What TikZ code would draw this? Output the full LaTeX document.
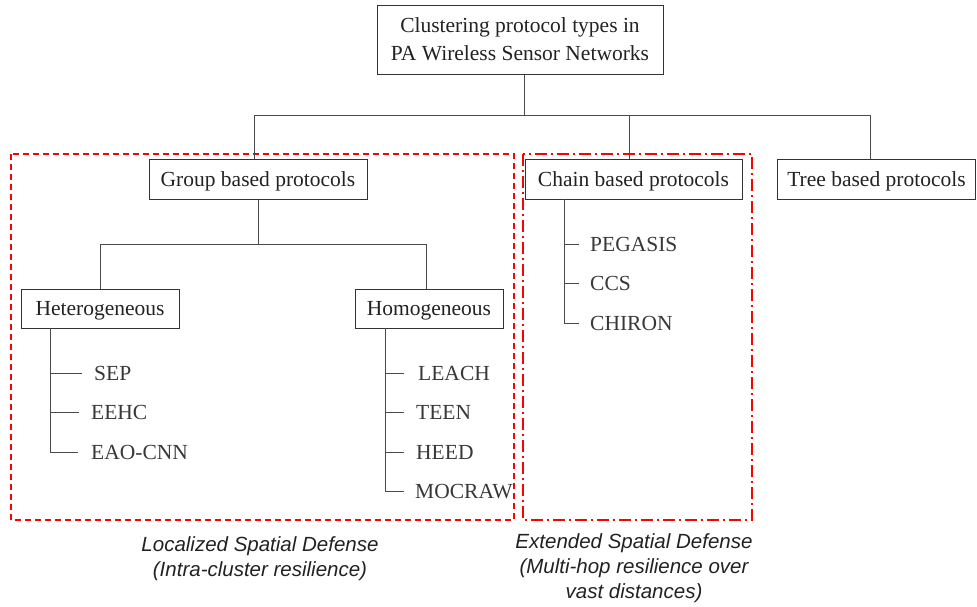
\documentclass[tikz,border=0pt]{standalone}
\usepackage{fontspec}
\setmainfont{Liberation Serif}
\newfontfamily\labelfont{Liberation Sans}
\definecolor{boxline}{HTML}{333333}
\definecolor{conn}{HTML}{4A4A4A}
\definecolor{itemtext}{HTML}{383838}
\definecolor{boxtext}{HTML}{222222}
\begin{document}
\begin{tikzpicture}[x=1pt,y=-1pt,
  box/.style={draw=boxline, line width=1pt, inner sep=0pt, text=boxtext,
    font=\fontsize{21.5}{28}\selectfont, text height=14.2pt, text depth=0pt},
  topbox/.style={draw=boxline, line width=1pt, inner sep=0pt, text=boxtext,
    font=\fontsize{21.5}{28}\selectfont, align=center},
  item/.style={anchor=west, inner sep=0pt, text=itemtext,
    font=\fontsize{21.5}{28}\selectfont, text height=14.2pt, text depth=0pt},
  link/.style={draw=conn, line width=1pt},
  zone/.style={draw=red, line width=2pt, dash pattern=on 6pt off 4pt},
  zonedd/.style={draw=red, line width=2pt, dash pattern=on 12pt off 4pt on 2pt off 4pt},
  caption/.style={inner sep=0pt, anchor=north, align=center, text=boxtext,
    font=\labelfont\itshape\fontsize{20.5}{25}\selectfont}
]
\useasboundingbox (0,0) rectangle (977,606);

% zones
\draw[zone] (11,154) rectangle (514,520);
\draw[zonedd] (523,154) rectangle (752,520);

% boxes
\node[topbox, minimum width=286pt, minimum height=69pt] (top) at (520,39.5)
  {Clustering protocol types in\\PA Wireless Sensor Networks};
\node[box, minimum width=218pt, minimum height=40pt] (group) at (258,179) {Group based protocols};
\node[box, minimum width=217pt, minimum height=40pt] (chain) at (633.5,179) {Chain based protocols};
\node[box, minimum width=198pt, minimum height=40pt] (tree) at (876.5,179) {Tree based protocols};
\node[box, minimum width=158pt, minimum height=39pt] (hetero) at (100,308.5) {Heterogeneous};
\node[box, minimum width=148pt, minimum height=39pt] (homo) at (429,308.5) {Homogeneous};

% top-level connectors
\coordinate (busL) at (254,115);
\coordinate (busC) at (629,115);
\coordinate (busR) at (870,115);
\draw[link] ([xshift=4pt]top.south) -- ([xshift=4pt]top.south |- busL);
\draw[link] (busL) -- (busR);
\draw[link] (busL) -- (busL |- group.north);
\draw[link] (busC) -- (busC |- chain.north);
\draw[link] (busR) -- (busR |- tree.north);

% group connectors
\coordinate (gbus) at (258,244);
\draw[link] (group.south) -- (gbus);
\draw[link] (hetero.north |- gbus) -- ([xshift=-3pt]homo.north |- gbus);
\draw[link] (hetero.north |- gbus) -- (hetero.north);
\draw[link] ([xshift=-3pt]homo.north |- gbus) -- ([xshift=-3pt]homo.north);

% heterogeneous list
\node[item] (sep) at (94,373) {SEP};
\node[item] (eehc) at (91,412) {EEHC};
\node[item] (eao) at (91,452) {EAO-CNN};
\coordinate (hx) at (50,328);
\draw[link] (hx) |- ([xshift=-13pt]eao.west);
\draw[link] (hx |- sep.west) -- ([xshift=-12pt]sep.west);
\draw[link] (hx |- eehc.west) -- ([xshift=-12pt]eehc.west);

% homogeneous list
\node[item] (leach) at (418,373) {LEACH};
\node[item] (teen) at (416,412) {TEEN};
\node[item] (heed) at (416,452) {HEED};
\node[item] (mocraw) at (415,491) {MOCRAW};
\coordinate (mx) at (385,328);
\draw[link] (mx) |- ([xshift=-11pt]mocraw.west);
\draw[link] (mx |- leach.west) -- ([xshift=-14pt]leach.west);
\draw[link] (mx |- teen.west) -- ([xshift=-12pt]teen.west);
\draw[link] (mx |- heed.west) -- ([xshift=-12pt]heed.west);

% chain list
\node[item] (pegasis) at (590,244) {PEGASIS};
\node[item] (ccs) at (590,283) {CCS};
\node[item] (chiron) at (590,323) {CHIRON};
\coordinate (cx) at (564,199);
\draw[link] (cx) |- ([xshift=-11pt]chiron.west);
\draw[link] (cx |- pegasis.west) -- ([xshift=-11pt]pegasis.west);
\draw[link] (cx |- ccs.west) -- ([xshift=-11pt]ccs.west);

% captions
\node[caption] (capL) at (260,536) {Localized Spatial Defense\\(Intra-cluster resilience)};
\node[caption] (capR) at (634,533) {Extended Spatial Defense\\(Multi-hop resilience over\\vast distances)};
\end{tikzpicture}
\end{document}
